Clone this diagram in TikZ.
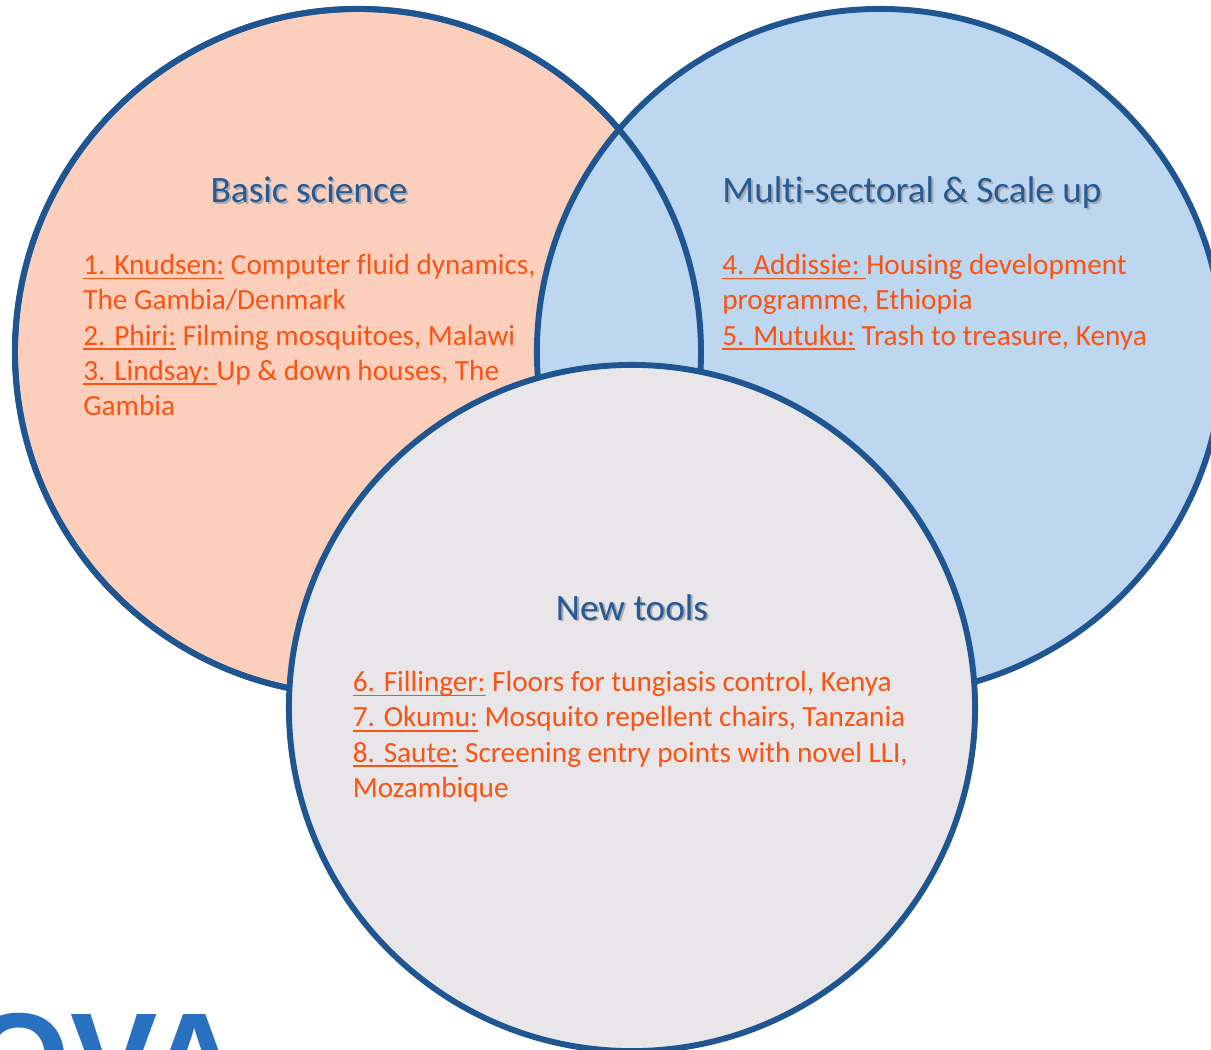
\documentclass[tikz,border=0pt]{standalone}
\usepackage{fontspec}
\setmainfont{Carlito}[Ligatures=CommonOff]
\newfontfamily\logofont{Liberation Sans}
\usepackage{tikz}
\usetikzlibrary{positioning}
\definecolor{ringblue}{HTML}{1F5591}
\definecolor{salmon}{HTML}{FCCFBD}
\definecolor{skyblue}{HTML}{BDD7F1}
\definecolor{lightgrey}{HTML}{E8E6E8}
\definecolor{heading}{HTML}{255A94}
\definecolor{headshadow}{HTML}{A9A9B0}
\definecolor{bodyorange}{HTML}{FA5312}
\definecolor{logoblue}{HTML}{2870C0}
\newcommand{\headtext}[1]{\makebox[0pt][l]{\raisebox{-1.4pt}{\hspace{1.4pt}\textcolor{headshadow}{#1}}}#1}
\newsavebox{\leadbox}
\newcommand{\lead}[1]{\sbox{\leadbox}{#1}\rlap{\rule[-3.4pt]{\wd\leadbox}{1.3pt}}\usebox{\leadbox}}
\tikzset{
    venn/.style={
    circle,draw=ringblue,line width=4.2pt,minimum size=17.15cm,outer sep=0pt,inner sep=0pt
    },
    headline/.style={
    text=heading,inner sep=0pt,anchor=base,font=\fontsize{26.5}{32}\selectfont
    },
    entries/.style={
    text=bodyorange,inner sep=0pt,anchor=north west,align=left,font=\fontsize{20.8}{25.1}\selectfont
    },
}
\begin{document}
\begin{tikzpicture}[x=0.025cm,y=-0.025cm]
   \useasboundingbox (0,0) rectangle (1211,1050);
   \clip (0,0) rectangle (1211,1050);
   \node[venn,fill=salmon] (basic) at (358,352) {};
   \node[venn,fill=skyblue] (multi) at (880,352) {};
   \draw[ringblue,line width=4.2pt] (basic.center) circle (343);
   \node[venn,fill=lightgrey] (tools) at (632,708) {};

   \node[headline] (basictitle) at (309,203) {\headtext{Basic science}};
   \node[headline] (multititle) at (912,203) {\headtext{Multi-sectoral \& Scale up}};
   \node[headline] (toolstitle) at (632,620) {\headtext{New tools}};

   \node[entries] (basiclist) at (83,254) {\lead{1. Knudsen:} Computer fluid dynamics,\\
     The Gambia/Denmark\\
     \lead{2. Phiri:} Filming mosquitoes, Malawi\\
     \lead{3. Lindsay:\ }Up \& down houses, The\\
     Gambia};
   \node[entries] (multilist) at (722,254) {\lead{4. Addissie:\ }Housing development\\
     programme, Ethiopia\\
     \lead{5. Mutuku:} Trash to treasure, Kenya};
   \node[entries] (toolslist) at (352.5,671) {\lead{6. Fillinger:} Floors for tungiasis control, Kenya\\
     \lead{7. Okumu:} Mosquito repellent chairs, Tanzania\\
     \lead{8. Saute:} Screening entry points with novel LLI,\\
     Mozambique};

   \node[text=logoblue,inner sep=0pt,anchor=base west,font=\logofont\bfseries\fontsize{93}{100}\selectfont] (logo) at (-32,1104) {OVA};
\end{tikzpicture}
\end{document}
